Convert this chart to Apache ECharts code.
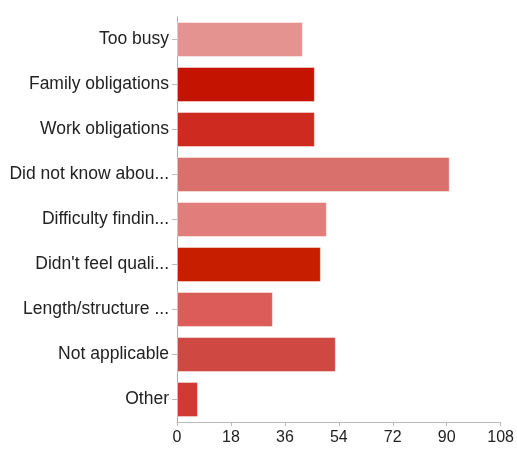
<!DOCTYPE html>
<html>
<head>
<meta charset="utf-8">
<script src="https://cdn.jsdelivr.net/npm/echarts@6/dist/echarts.min.js"></script>
<style>
  html, body { margin: 0; padding: 0; background: #fff; }
  #chart { width: 517px; height: 449px; }
</style>
</head>
<body>
<div id="chart"></div>
<script>
// Reasons given, one bar per reason (top to bottom)
const categories = [
  'Too busy',
  'Family obligations',
  'Work obligations',
  'Did not know abou...',
  'Difficulty findin...',
  "Didn't feel quali...",
  'Length/structure ...',
  'Not applicable',
  'Other'
];
const counts = [42, 46, 46, 91, 50, 48, 32, 53, 7];
const barColors = [
  '#e59391', '#c41300', '#cf2a1f', '#d9706c', '#e17d7b',
  '#c81e00', '#db5c58', '#d04842', '#d03a32'
];
const xTicks = [0, 18, 36, 54, 72, 90, 108];

const chart = echarts.init(document.getElementById('chart'), null, { renderer: 'canvas' });

chart.setOption({
  animation: false,
  backgroundColor: '#ffffff',
  grid: { left: 177, right: 16, top: 17, bottom: 27, containLabel: false },
  xAxis: {
    type: 'value',
    min: xTicks[0],
    max: xTicks[xTicks.length - 1],
    interval: xTicks[1] - xTicks[0],
    splitLine: { show: false },
    axisLine: { show: true, lineStyle: { color: '#bbbbbb', width: 1 } },
    axisTick: { show: true, length: 4, lineStyle: { color: '#bbbbbb' } },
    axisLabel: {
      color: '#222222',
      fontFamily: 'Liberation Sans, Arial, sans-serif',
      fontSize: 16,
      margin: 8
    }
  },
  yAxis: {
    type: 'category',
    data: categories,
    inverse: true,
    axisLine: { show: true, lineStyle: { color: '#aaaaaa', width: 1 } },
    axisTick: { show: true, length: 5, alignWithLabel: true, lineStyle: { color: '#bbbbbb' } },
    axisLabel: {
      color: '#222222',
      fontFamily: 'Liberation Sans, Arial, sans-serif',
      fontSize: 17.5,
      margin: 8
    }
  },
  series: [{
    type: 'bar',
    data: counts.map((v, i) => ({
      value: v,
      itemStyle: {
        color: barColors[i],
        borderColor: 'rgba(255,255,255,0.45)',
        borderWidth: 1
      }
    })),
    barCategoryGap: '22%'
  }]
});
</script>
</body>
</html>
